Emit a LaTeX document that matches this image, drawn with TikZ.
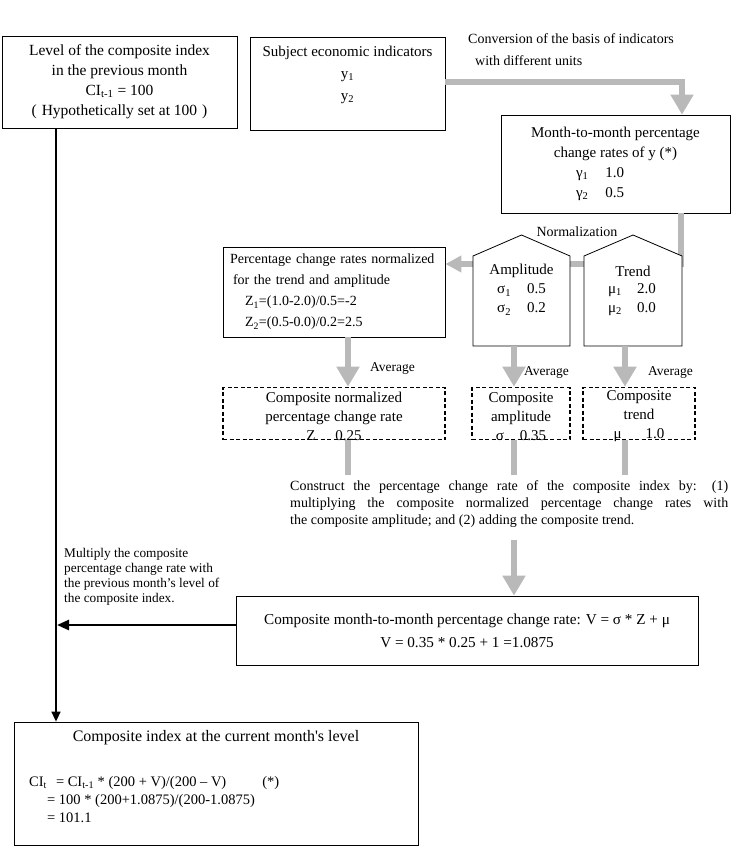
\documentclass[tikz,border=0pt]{standalone}
\usepackage{fontspec}
\setmainfont{Liberation Serif}
\usetikzlibrary{arrows.meta}
\newcommand\fsz[2]{\fontsize{#1}{#2}\selectfont}
\begin{document}
\begin{tikzpicture}[x=1pt,y=-1pt,
  box/.style={draw, line width=0.8pt, inner sep=0pt, align=center},
  dbox/.style={draw, line width=1.6pt, dash pattern=on 4pt off 2.5pt, inner sep=0pt},
  lbl/.style={inner sep=0pt},
  garrow/.style={draw=gray!55, line width=6pt, -{Triangle[width=22pt,length=20pt]}},
  gsmall/.style={draw=gray!55, line width=6pt, -{Triangle[width=16pt,length=16pt]}},
  gline/.style={draw=gray!55, line width=6pt},
  pent/.style={draw, line width=0.8pt, fill=white},
]
\useasboundingbox (0,0) rectangle (736,854);

% boxes
\node[box, minimum width=235pt, minimum height=92pt, font=\fsz{15.5}{20}] (prev) at (119.5,82)
  {Level of the composite index\\in the previous month\\CI\textsubscript{t-1} = 100\\(\hspace{5pt}Hypothetically set at 100\hspace{5pt})};

\node[box, minimum width=195pt, minimum height=93pt] (subj) at (347.5,83.5) {};
\node[lbl, align=center, font=\fsz{15}{22}, anchor=north] (subjt) at (347.5,46)
  {Subject economic indicators\\y\textsubscript{1}\\y\textsubscript{2}};

\node[lbl, align=left, font=\fsz{14}{22}, anchor=north west] (conv) at (468,33)
  {Conversion of the basis of indicators\\\hspace*{7pt}with different units};

\node[box, minimum width=229pt, minimum height=98pt, font=\fsz{15}{20}] (m2m) at (615.5,164)
  {Month-to-month percentage\\change rates of y (*)\\\makebox[79pt][l]{γ\textsubscript{1}\hspace{17pt}1.0}\\\makebox[79pt][l]{γ\textsubscript{2}\hspace{17pt}0.5}};

\node[box, minimum width=222pt, minimum height=90pt, text width=208pt, align=left, font=\fsz{14}{21}] (normz) at (334,292)
  {Percentage change rates normalized\\\hspace*{3pt}for the trend and amplitude\\\hspace*{15pt}Z\textsubscript{1}=(1.0-2.0)/0.5=-2\\\hspace*{15pt}Z\textsubscript{2}=(0.5-0.0)/0.2=2.5};

% gray connectors behind the pentagons
\coordinate (c1) at (682,82);
\draw[garrow] (subj.east |- c1) -- (c1) -- (c1 |- m2m.north);
\coordinate (c2) at (681,264);
\draw[gsmall] (c2 |- m2m.south) -- (c2) -- (normz.east |- c2);

% pentagons
\draw[pent] (473,346) -- (473,256) -- (521.5,235) -- (570,256) -- (570,346) -- cycle;
\draw[pent] (584,346) -- (584,256) -- (633,235) -- (682,256) -- (682,346) -- cycle;
\node[lbl, font=\fsz{14}{14}] (norm) at (577,232) {Normalization};
\node[lbl, font=\fsz{15}{15}] (ampt) at (521.5,271) {Amplitude};
\node[lbl, font=\fsz{15}{19}, align=left, anchor=west] (ampv) at (497,299.5)
  {\makebox[30pt][l]{σ\textsubscript{1}}0.5\\\makebox[30pt][l]{σ\textsubscript{2}}0.2};
\node[lbl, font=\fsz{15}{15}] (trendt) at (633,271) {Trend};
\node[lbl, font=\fsz{15}{19}, align=left, anchor=west] (trendv) at (608,299.5)
  {\makebox[29pt][l]{μ\textsubscript{1}}2.0\\\makebox[29pt][l]{μ\textsubscript{2}}0.0};

% dashed boxes
\node[dbox, minimum width=222pt, minimum height=52pt] (dA) at (334,413.5) {};
\node[dbox, minimum width=98pt, minimum height=52pt] (dB) at (521,413.5) {};
\node[dbox, minimum width=112pt, minimum height=52pt] (dC) at (639,413.5) {};
\node[lbl, align=center, font=\fsz{15}{19}] (dAt) at (334,416.5)
  {Composite normalized\\percentage change rate\\Z\hspace{20pt}0.25};
\node[lbl, align=center, font=\fsz{15}{19}] (dBt) at (521,416.5)
  {Composite\\amplitude\\σ\hspace{16pt}0.35};
\node[lbl, align=center, font=\fsz{15}{19}] (dCt) at (639,416.5)
  {Composite\\trend\\μ\hspace{24pt}1.0};

\node[lbl, anchor=west, font=\fsz{13.5}{14}] (av1) at (370,368) {Average};
\node[lbl, anchor=west, font=\fsz{13.5}{14}] (av2) at (524,372) {Average};
\node[lbl, anchor=west, font=\fsz{13.5}{14}] (av3) at (648,372) {Average};

\draw[garrow] ([xshift=14pt]normz.south) -- ([xshift=14pt]dA.north);
\coordinate (ab) at (514,346);
\draw[garrow] (ab) -- (ab |- dB.north);
\coordinate (tb) at (625,346);
\draw[garrow] (tb) -- (tb |- dC.north);

\coordinate (s1) at (348,475);
\draw[gline] ([xshift=14pt]dA.south) -- (s1);
\coordinate (s2) at (514,475);
\draw[gline] (s2 |- dB.south) -- (s2);
\coordinate (s3) at (625,475);
\draw[gline] (s3 |- dC.south) -- (s3);

\node[lbl, anchor=north west, text width=438pt, align=justify, font=\fsz{14}{17}] (constr) at (290,480)
  {Construct the percentage change rate of the composite index by: (1)\linebreak multiplying the composite normalized percentage change rates with\linebreak the composite amplitude; and (2) adding the composite trend.};

\node[box, minimum width=462pt, minimum height=69pt, font=\fsz{15.2}{23}] (vm) at (467,630.5)
  {Composite month-to-month percentage change rate: V = σ * Z + μ\\V = 0.35 * 0.25 + 1 =1.0875};

\coordinate (s4) at (514,540);
\draw[garrow] (s4) -- (s4 |- vm.north);

\node[lbl, anchor=north west, align=left, font=\fsz{13.3}{15}] (mult) at (64,548)
  {Multiply the composite\\percentage change rate with\\the previous month’s level of\\the composite index.};

% bottom box
\node[box, minimum width=404pt, minimum height=123pt] (cur) at (216,783.5) {};
\node[lbl, font=\fsz{16}{16}] (curt) at (216,738) {Composite index at the current month\textquotesingle s level};
\node[lbl, anchor=north west, align=left, font=\fsz{14.5}{18}] (cureq) at (29,776)
  {CI\textsubscript{t}\hspace{9pt}= CI\textsubscript{t-1} * (200 + V)/(200 – V)\hspace{36pt}(*)\\\hspace*{18pt}= 100 * (200+1.0875)/(200-1.0875)\\\hspace*{18pt}= 101.1};

% black connectors
\coordinate (vx) at (56,0);
\draw[line width=1.5pt, -{Triangle[width=9pt,length=10pt]}] (vx |- prev.south) -- (vx |- cur.north);
\coordinate (ah) at (57,625);
\draw[line width=2.5pt, -{Triangle[width=10pt,length=12pt]}] (vm.west |- ah) -- (ah);
\end{tikzpicture}
\end{document}
